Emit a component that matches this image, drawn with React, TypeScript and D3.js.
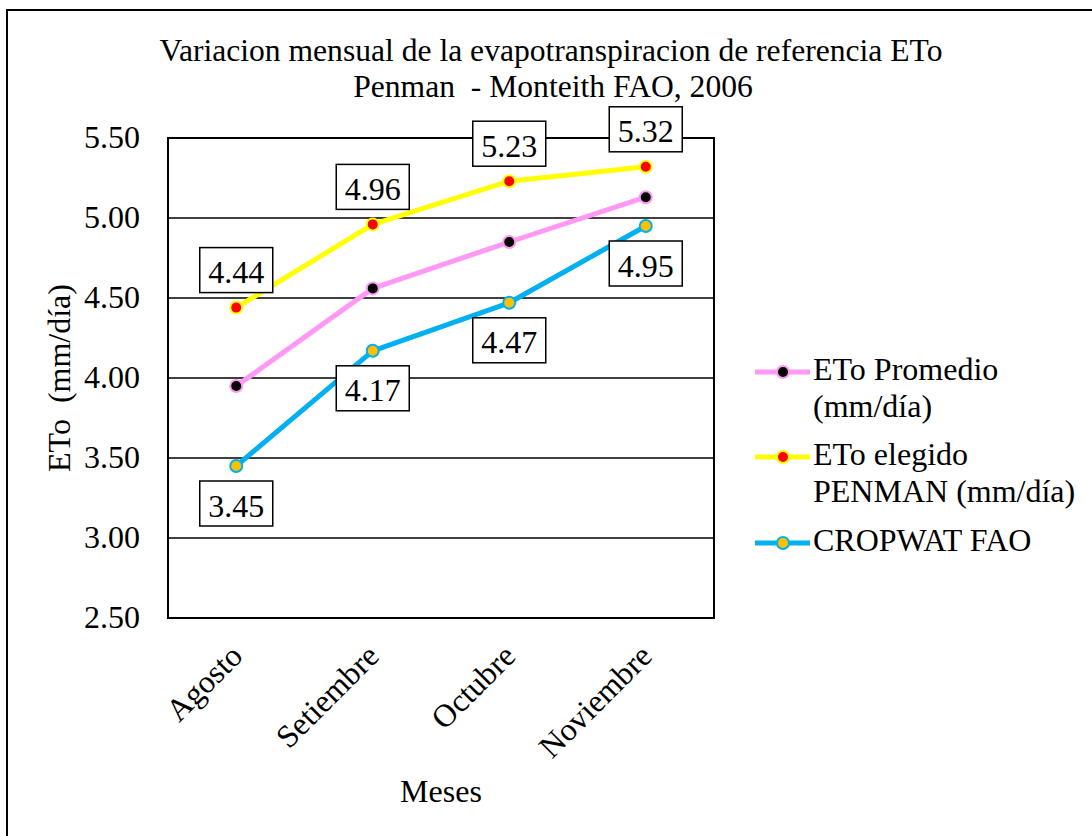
import React from "react";
import * as d3 from "d3";

const months = ["Agosto", "Setiembre", "Octubre", "Noviembre"];
const etoPromedio = [3.95, 4.56, 4.85, 5.13];
const etoPenman = [4.44, 4.96, 5.23, 5.32];
const cropwat = [3.45, 4.17, 4.47, 4.95];
const yTicks = [2.5, 3.0, 3.5, 4.0, 4.5, 5.0, 5.5];

type Series = {
  name: string[];
  values: number[];
  line: string;
  marker: string;
  labelSide: number; // -1 above, +1 below, 0 none
};

const series: Series[] = [
  { name: ["ETo Promedio", "(mm/día)"], values: etoPromedio, line: "#FF99F5", marker: "#000000", labelSide: 0 },
  { name: ["ETo elegido", "PENMAN (mm/día)"], values: etoPenman, line: "#FFFF00", marker: "#FF0000", labelSide: -1 },
  { name: ["CROPWAT FAO"], values: cropwat, line: "#00B0F0", marker: "#FFC000", labelSide: 1 },
];

const W = 1092;
const H = 836;
const plot = { left: 168, right: 714, top: 138, bottom: 618 };
const font = "Liberation Serif";
const fs = 32;

export default function App() {
  const x = d3
    .scalePoint<string>()
    .domain(months)
    .range([plot.left, plot.right])
    .padding(0.5);
  const y = d3.scaleLinear().domain([2.5, 5.5]).range([plot.bottom, plot.top]);

  const line = d3
    .line<number>()
    .x((_, i) => x(months[i])!)
    .y((d) => y(d));

  const boxW = 73;
  const boxH = 45;
  const boxGap = 15;

  const legendX = 755;
  const legendRows = [372, 457, 543];

  return (
    <div style={{ position: "absolute", left: 0, top: 0 }}>
      <svg width={W} height={H} fontFamily={font} style={{ display: "block" }}>
        <rect x={0} y={0} width={W} height={H} fill="#fff" />
        {/* chart frame */}
        <path d={`M7,${H} V10 H${W}`} fill="none" stroke="#000" strokeWidth={2} />

        {/* title */}
        <text x={551} y={61} textAnchor="middle" fontSize={31.6} fill="#000">
          Variacion mensual de la evapotranspiracion de referencia ETo
        </text>
        <text x={553} y={97} textAnchor="middle" fontSize={31.6} fill="#000" style={{ whiteSpace: "pre" }}>
          {"Penman  - Monteith FAO, 2006"}
        </text>

        {/* gridlines and y ticks */}
        {yTicks.map((t) => (
          <g key={t}>
            <line x1={plot.left} x2={plot.right} y1={y(t)} y2={y(t)} stroke="#000" strokeWidth={1.5} />
            <text x={140} y={y(t) + 10} textAnchor="end" fontSize={fs} fill="#000">
              {t.toFixed(2)}
            </text>
          </g>
        ))}
        <rect
          x={plot.left}
          y={plot.top}
          width={plot.right - plot.left}
          height={plot.bottom - plot.top}
          fill="none"
          stroke="#000"
          strokeWidth={2}
        />

        {/* y axis title */}
        <text
          transform={`translate(70, ${(plot.top + plot.bottom) / 2}) rotate(-90)`}
          textAnchor="middle"
          fontSize={fs}
          fill="#000"
          style={{ whiteSpace: "pre" }}
        >
          {"ETo  (mm/día)"}
        </text>

        {/* category labels */}
        {months.map((m) => (
          <text
            key={m}
            transform={`translate(${x(m)! + 8}, 658) rotate(-45)`}
            textAnchor="end"
            fontSize={fs}
            fill="#000"
          >
            {m}
          </text>
        ))}
        <text x={(plot.left + plot.right) / 2} y={802} textAnchor="middle" fontSize={fs} fill="#000">
          Meses
        </text>

        {/* series lines */}
        {series.map((s) => (
          <path key={s.name[0]} d={line(s.values)!} fill="none" stroke={s.line} strokeWidth={5} strokeLinejoin="round" />
        ))}
        {series.map((s) =>
          s.values.map((v, i) => (
            <circle
              key={s.name[0] + i}
              cx={x(months[i])!}
              cy={y(v)}
              r={6}
              fill={s.marker}
              stroke={s.line}
              strokeWidth={2}
            />
          ))
        )}

        {/* data labels */}
        {series
          .filter((s) => s.labelSide !== 0)
          .map((s) =>
            s.values.map((v, i) => {
              const cx = x(months[i])!;
              const cy = y(v) + s.labelSide * (boxGap + boxH / 2);
              return (
                <g key={s.name[0] + "l" + i}>
                  <rect
                    x={cx - boxW / 2}
                    y={cy - boxH / 2}
                    width={boxW}
                    height={boxH}
                    fill="#fff"
                    stroke="#000"
                    strokeWidth={1.5}
                  />
                  <text x={cx} y={cy + 13} textAnchor="middle" fontSize={fs} fill="#000">
                    {v.toFixed(2)}
                  </text>
                </g>
              );
            })
          )}

        {/* legend */}
        {series.map((s, k) => {
          const ly = legendRows[k];
          return (
            <g key={"lg" + k}>
              <line x1={legendX} x2={legendX + 55} y1={ly} y2={ly} stroke={s.line} strokeWidth={5} />
              <circle cx={legendX + 28} cy={ly} r={6} fill={s.marker} stroke={s.line} strokeWidth={2} />
              {s.name.map((t, j) => (
                <text key={t} x={legendX + 58} y={ly + 8 + j * 37} fontSize={fs} fill="#000">
                  {t}
                </text>
              ))}
            </g>
          );
        })}
      </svg>
    </div>
  );
}
